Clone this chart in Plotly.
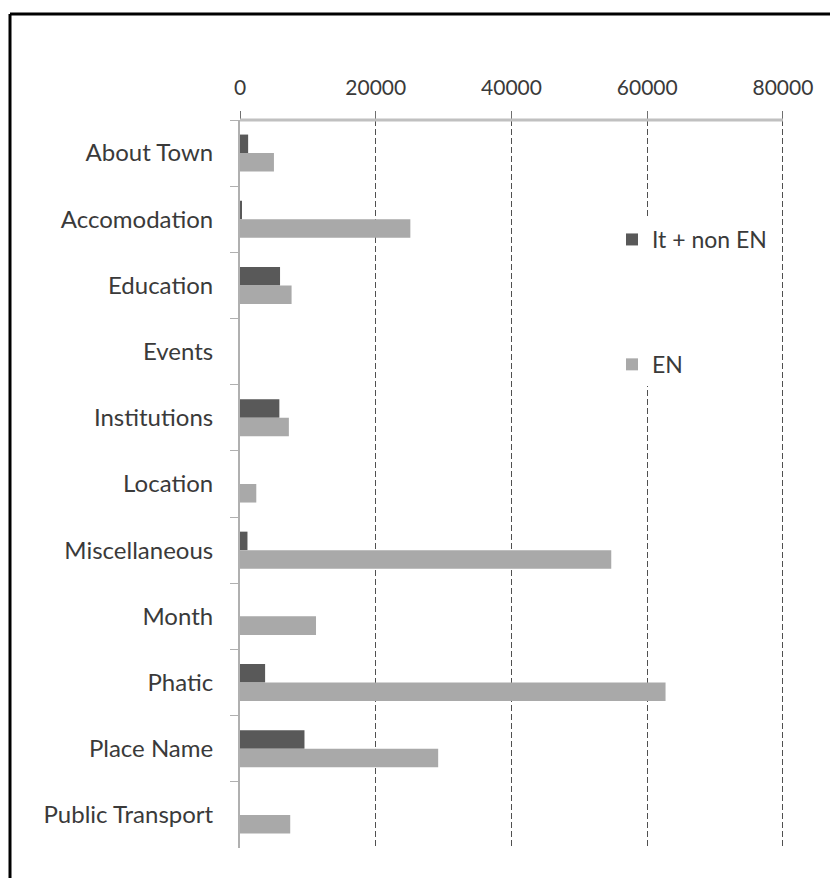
import plotly.graph_objects as go

categories = ["About Town", "Accomodation", "Education", "Events", "Institutions",
              "Location", "Miscellaneous", "Month", "Phatic", "Place Name", "Public Transport"]
it_non_en = [1200, 200, 5900, 0, 5800, 0, 1100, 0, 3700, 9500, 0]
en = [5000, 25100, 7600, 0, 7200, 2400, 54700, 11200, 62700, 29200, 7400]
x_ticks = [0, 20000, 40000, 60000, 80000]

W, H = 830, 878
L, R, T, B = 240, 45, 120, 30
pw, ph = W - L - R, H - T - B

def px_x(x):
    return (x - L) / pw

def px_y(y):
    return (H - B - y) / ph

FONT = "Lato"
TXT = "#3a3a3a"

fig = go.Figure()
fig.add_trace(go.Bar(y=categories, x=it_non_en, orientation="h", name="It + non EN",
                     marker=dict(color="#595959", line=dict(width=0)), legendgroup="a"))
fig.add_trace(go.Bar(y=categories, x=en, orientation="h", name="EN",
                     marker=dict(color="#a9a9a9", line=dict(width=0)), legendgroup="b"))

fig.update_layout(
    width=W, height=H,
    margin=dict(l=L, r=R, t=T, b=B),
    paper_bgcolor="white", plot_bgcolor="white",
    barmode="group", bargap=0.44, bargroupgap=0,
    font=dict(family=FONT, size=20, color=TXT),
    showlegend=True,
    legend=dict(x=px_x(612), y=px_y(218), xanchor="left", yanchor="top",
                bgcolor="white", traceorder="grouped", tracegroupgap=92,
                font=dict(family=FONT, size=23, color=TXT)),
    xaxis=dict(side="top", range=[0, 80300], tickvals=x_ticks,
               ticktext=[str(v) for v in x_ticks],
               showgrid=True, gridcolor="#505050", griddash="6px,3px", gridwidth=1,
               zeroline=False, showline=False,
               ticks="outside", ticklen=8, tickcolor="#707070",
               ticklabelstandoff=8, tickfont=dict(size=21, color=TXT)),
    yaxis=dict(autorange="reversed", showgrid=False, zeroline=False,
               showline=True, linecolor="#b0b0b0", linewidth=2,
               ticks="outside", tickson="boundaries", ticklen=8, tickcolor="#b0b0b0",
               ticklabelstandoff=20, tickfont=dict(size=24, color=TXT)),
    shapes=[
        # top axis line from 0 to 80000
        dict(type="line", xref="x", yref="paper", x0=x_ticks[0], x1=x_ticks[-1],
             y0=1, y1=1, line=dict(color="#c0c0c0", width=3)),
        dict(type="line", xref="paper", yref="paper", x0=px_x(10), x1=px_x(W + 5),
             y0=px_y(14), y1=px_y(14), line=dict(color="black", width=3)),
        dict(type="line", xref="paper", yref="paper", x0=px_x(10), x1=px_x(10),
             y0=px_y(14), y1=px_y(H + 5), line=dict(color="black", width=3)),
    ],
)

fig.write_html("out.html")
